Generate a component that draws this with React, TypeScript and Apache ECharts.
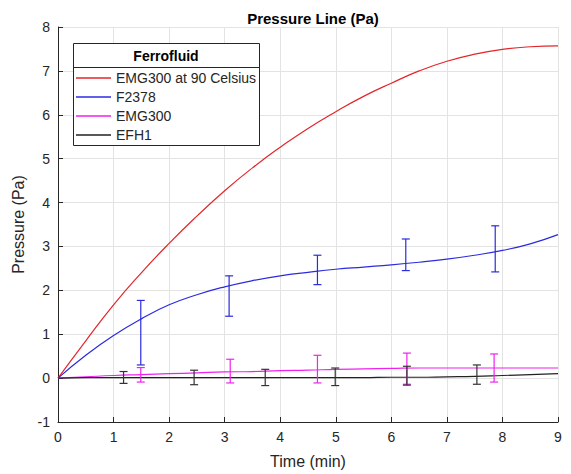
import React, { useEffect, useRef } from "react";
import * as echarts from "echarts";

// Curve sampling times (min) and read values (Pa)
const curveTime = [0, 0.5, 1, 1.5, 2, 2.5, 3, 3.5, 4, 4.5, 5, 5.5, 6, 6.5, 7, 7.5, 8, 8.5, 9];
const emg300At90 = [0, 0.85, 1.67, 2.4, 3.07, 3.69, 4.27, 4.79, 5.26, 5.69, 6.07, 6.42, 6.72, 7.0, 7.22, 7.38, 7.49, 7.55, 7.57];
const f2378 = [0, 0.52, 0.97, 1.35, 1.67, 1.9, 2.08, 2.22, 2.33, 2.41, 2.48, 2.53, 2.58, 2.64, 2.71, 2.8, 2.91, 3.06, 3.27];
const emg300 = [0, 0.03, 0.06, 0.08, 0.1, 0.12, 0.14, 0.15, 0.17, 0.18, 0.2, 0.21, 0.22, 0.23, 0.23, 0.23, 0.23, 0.23, 0.23];
const efh1 = [0, 0.01, 0.01, 0.01, 0.01, 0.01, 0.01, 0.01, 0.01, 0.01, 0.01, 0.01, 0.02, 0.02, 0.03, 0.04, 0.06, 0.08, 0.1];

// Error bars: time, low, high
const f2378ErrTime = [1.49, 3.08, 4.67, 6.26, 7.87];
const f2378ErrLow = [0.3, 1.41, 2.13, 2.45, 2.42];
const f2378ErrHigh = [1.77, 2.33, 2.8, 3.17, 3.47];

const emg300ErrTime = [1.49, 3.1, 4.67, 6.28, 7.85];
const emg300ErrLow = [-0.09, -0.11, -0.11, -0.14, -0.09];
const emg300ErrHigh = [0.24, 0.43, 0.52, 0.57, 0.55];

const efh1ErrTime = [1.18, 2.45, 3.73, 4.99, 6.28, 7.54];
const efh1ErrLow = [-0.12, -0.15, -0.17, -0.17, -0.16, -0.14];
const efh1ErrHigh = [0.15, 0.18, 0.2, 0.23, 0.27, 0.3];

const seriesNames = ["EMG300 at 90 Celsius", "F2378", "EMG300", "EFH1"];
const xTicks = { min: 0, max: 9, interval: 1 };
const yTicks = { min: -1, max: 8, interval: 1 };

const FONT = "'Liberation Sans', Arial, Helvetica, sans-serif";
const TXT = "#262626";
const COLORS = ["#e3262b", "#2b2be0", "#ee22ee", "#222222"];
const ICON = "path://M0,0H35V1.3H0Z";

function pairs(t: number[], v: number[]) {
  return t.map((x, i) => [x, v[i]]);
}
function errData(t: number[], lo: number[], hi: number[]) {
  return t.map((x, i) => [x, lo[i], hi[i]]);
}

function errSeries(data: number[][], color: string) {
  return {
    type: "custom",
    silent: true,
    z: 3,
    encode: { x: 0, y: [1, 2] },
    data,
    renderItem: (_p: any, api: any) => {
      const x = api.value(0);
      const a = api.coord([x, api.value(1)]);
      const b = api.coord([x, api.value(2)]);
      const w = 4;
      const st = { stroke: color, lineWidth: 1.2 };
      return {
        type: "group",
        children: [
          { type: "line", shape: { x1: a[0], y1: a[1], x2: b[0], y2: b[1] }, style: st },
          { type: "line", shape: { x1: a[0] - w, y1: a[1], x2: a[0] + w, y2: a[1] }, style: st },
          { type: "line", shape: { x1: b[0] - w, y1: b[1], x2: b[0] + w, y2: b[1] }, style: st },
        ],
      };
    },
  };
}

export default function App() {
  const ref = useRef<HTMLDivElement>(null);
  useEffect(() => {
    if (!ref.current) return;
    const chart = echarts.init(ref.current, undefined, { renderer: "svg" });
    const curves = [emg300At90, f2378, emg300, efh1];
    chart.setOption({
      animation: false,
      textStyle: { fontFamily: FONT },
      title: {
        text: "Pressure Line (Pa)",
        left: 308,
        textAlign: "center",
        top: 6,
        textStyle: { fontFamily: FONT, fontSize: 15, fontWeight: "bold", color: "#000" },
      },
      grid: { left: 58, right: 13, top: 27, bottom: 51, containLabel: false },
      xAxis: {
        type: "value",
        ...xTicks,
        name: "Time (min)",
        nameLocation: "middle",
        nameGap: 31,
        nameTextStyle: { fontFamily: FONT, fontSize: 16, color: TXT },
        axisLine: { show: true, onZero: false, lineStyle: { color: TXT, width: 1 } },
        axisTick: { show: true, inside: true, length: 5, lineStyle: { color: TXT } },
        axisLabel: { fontFamily: FONT, fontSize: 14, color: TXT, margin: 8 },
        splitLine: { show: true, lineStyle: { color: "#e3e3e3", width: 1 } },
      },
      yAxis: {
        type: "value",
        ...yTicks,
        name: "Pressure (Pa)",
        nameLocation: "middle",
        nameGap: 28,
        nameTextStyle: { fontFamily: FONT, fontSize: 16, color: TXT },
        axisLine: { show: true, onZero: false, lineStyle: { color: TXT, width: 1 } },
        axisTick: { show: true, inside: true, length: 5, lineStyle: { color: TXT } },
        axisLabel: { fontFamily: FONT, fontSize: 14, color: TXT, margin: 8 },
        splitLine: { show: true, lineStyle: { color: "#e3e3e3", width: 1 } },
      },
      legend: {
        data: seriesNames.map((name, i) => ({
          name,
          icon: ICON,
          itemStyle: { color: COLORS[i], borderWidth: 0 },
          lineStyle: { color: COLORS[i], width: 0, opacity: 0 },
        })),
        symbolKeepAspect: true,
        orient: "vertical",
        left: 76,
        top: 71,
        padding: 0,
        itemWidth: 35,
        itemHeight: 14,
        itemGap: 5,
        itemTextGap: 4,
        selectedMode: false,
        textStyle: { fontFamily: FONT, fontSize: 14, color: TXT },
        z: 10,
      },
      graphic: [
        {
          type: "rect",
          z: 8,
          shape: { x: 73.5, y: 43.5, width: 186, height: 102 },
          style: { fill: "#fff", stroke: TXT, lineWidth: 1 },
        },
        {
          type: "line",
          z: 9,
          shape: { x1: 73.5, y1: 67.5, x2: 259.5, y2: 67.5 },
          style: { stroke: TXT, lineWidth: 1 },
        },
        {
          type: "text",
          z: 9,
          x: 166,
          y: 55.5,
          style: {
            text: "Ferrofluid",
            fontFamily: FONT,
            fontSize: 14,
            fontWeight: "bold",
            fill: "#000",
            textAlign: "center",
            textVerticalAlign: "middle",
          },
        },
      ],
      series: [
        ...seriesNames.map((name, i) => ({
          name,
          type: "line",
          data: pairs(curveTime, curves[i]),
          smooth: 0.5,
          symbol: "none",
          z: 2,
          color: COLORS[i],
          itemStyle: { color: COLORS[i] },
          lineStyle: { color: COLORS[i], width: 1.2 },
        })),
        errSeries(errData(f2378ErrTime, f2378ErrLow, f2378ErrHigh), COLORS[1]),
        errSeries(errData(emg300ErrTime, emg300ErrLow, emg300ErrHigh), COLORS[2]),
        errSeries(errData(efh1ErrTime, efh1ErrLow, efh1ErrHigh), "#333333"),
      ],
    });
    return () => chart.dispose();
  }, []);
  return <div ref={ref} style={{ width: 571, height: 474, position: "absolute", left: 0, top: 0 }} />;
}
